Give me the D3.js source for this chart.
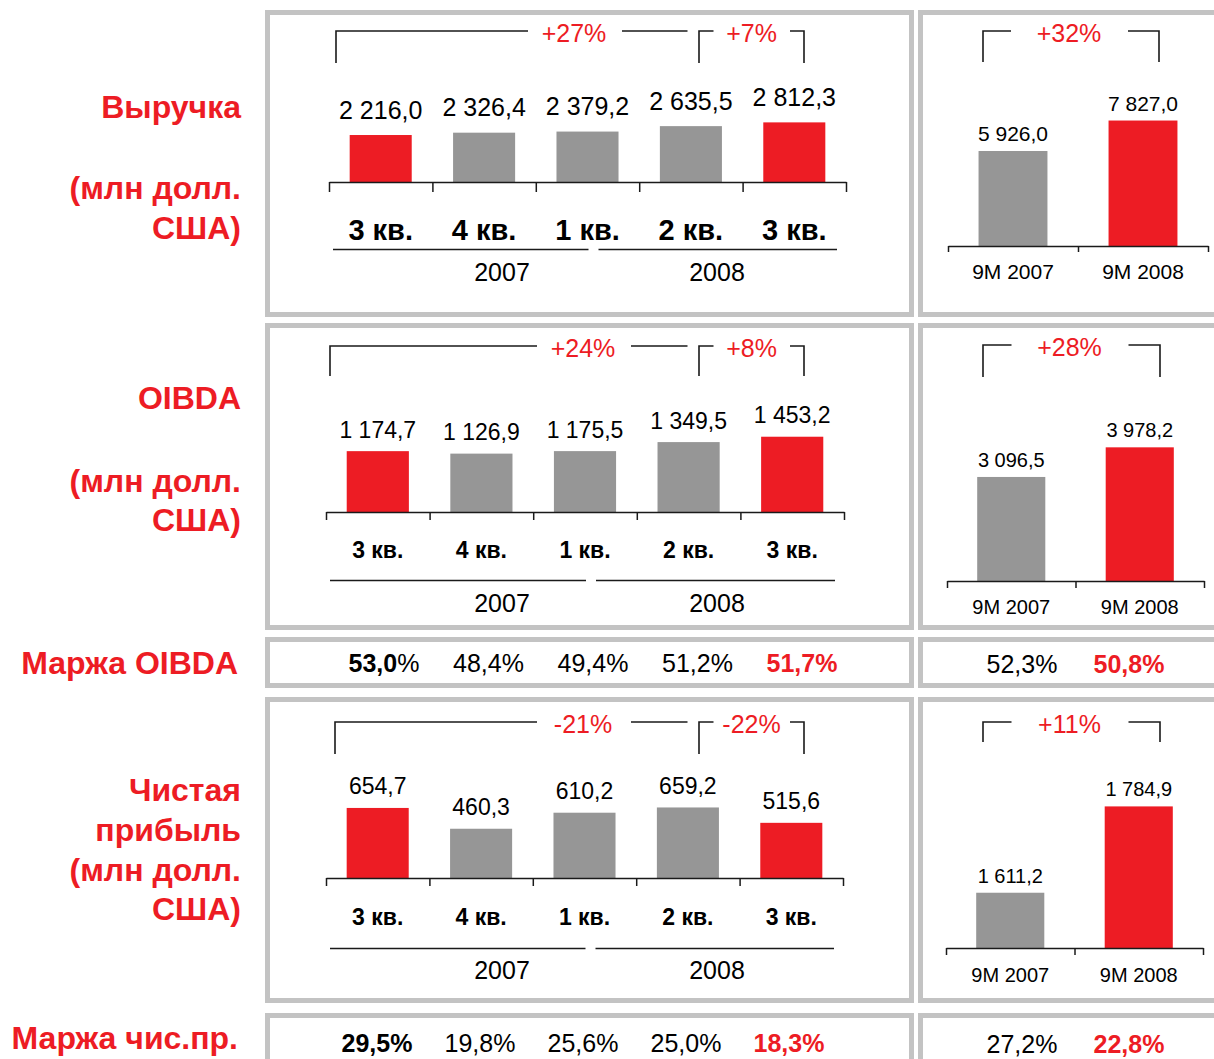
<!DOCTYPE html>
<html>
<head>
<meta charset="utf-8">
<script src="https://cdn.jsdelivr.net/npm/d3@7"></script>
<style>
body { margin: 0; background: #fff; }
svg { display: block; font-family: "Liberation Sans", Arial, sans-serif; }
</style>
</head>
<body>
<div id="chart"></div>
<script>
// ---- data ----
var quarters = ["3 кв.", "4 кв.", "1 кв.", "2 кв.", "3 кв."];
var years = ["2007", "2008"];
var periods9m = ["9M 2007", "9M 2008"];

var revenue = [2216.0, 2326.4, 2379.2, 2635.5, 2812.3];
var oibda = [1174.7, 1126.9, 1175.5, 1349.5, 1453.2];
var netIncome = [654.7, 460.3, 610.2, 659.2, 515.6];

var revenue9m = [5926.0, 7827.0];
var oibda9m = [3096.5, 3978.2];
var netIncome9m = [1611.2, 1784.9];

var oibdaMargin = [53.0, 48.4, 49.4, 51.2, 51.7];
var oibdaMargin9m = [52.3, 50.8];
var netMargin = [29.5, 19.8, 25.6, 25.0, 18.3];
var netMargin9m = [27.2, 22.8];

// growth: [3Q08 vs 3Q07, 3Q08 vs 2Q08], and 9M08 vs 9M07
var revenueGrowth = ["+27%", "+7%"];
var oibdaGrowth = ["+24%", "+8%"];
var netGrowth = ["-21%", "-22%"];
var revenueGrowth9m = "+32%";
var oibdaGrowth9m = "+28%";
var netGrowth9m = "+11%";

var redQuarter = [true, false, false, false, true];
var red9m = [false, true];

var rowTitles = [
    ["Выручка", "(млн долл.", "США)"],
    ["OIBDA", "(млн долл.", "США)"],
    ["Чистая", "прибыль", "(млн долл.", "США)"]
];
var marginTitles = ["Маржа OIBDA", "Маржа чис.пр."];

// ---- setup ----
var w = 1214;
var h = 1059;
var RED = "#ed1c24", GREY = "#969696", FRAME = "#c3c3c3", INK = "#1a1a1a";

var loc = d3.formatLocale({decimal: ",", thousands: "\u00a0", grouping: [3], currency: ["", ""]});
var fmtVal = loc.format(",.1f");
var fmtPct = loc.format(".1f");

var svg = d3.select("#chart")
            .append("svg")
            .attr("width", w)
            .attr("height", h);

svg.append("rect").attr("width", w).attr("height", h).attr("fill", "#fff");

function frame(x0, y0, x1, y1) {
    svg.append("rect")
        .attr("x", x0 + 2.5).attr("y", y0 + 2.5)
        .attr("width", x1 - x0 - 5).attr("height", y1 - y0 - 5)
        .attr("fill", "none").attr("stroke", FRAME).attr("stroke-width", 5);
}

function bracket(xl, xr, yTop, yBotL, yBotR, labelX, gapL, gapR, label, size) {
    var p = "M" + xl + "," + yBotL + "V" + yTop + "H" + (labelX - gapL) +
            "M" + (labelX + gapR) + "," + yTop + "H" + xr;
    if (yBotR) p += "V" + yBotR;
    svg.append("path").attr("d", p).attr("fill", "none")
        .attr("stroke", INK).attr("stroke-width", 1.6);
    svg.append("text").attr("x", labelX).attr("y", yTop + 2).attr("dy", "0.35em")
        .attr("text-anchor", "middle").attr("font-size", size).attr("fill", RED)
        .text(label);
}

// ---- quarterly panels ----
var qRows = [
    {values: revenue, growth: revenueGrowth, x0: 329, x1: 846, base: 182, yDomain: [0, 5000], yPx: 106,
     tick: 10, valSize: 25, valGap: 25, qSize: 29, qY: 230, lineY: 249.5, yearY: 272,
     brTop: 31, brBot: 63, brLeft: 336, bigX: 574},
    {values: oibda, growth: oibdaGrowth, x0: 326, x1: 844, base: 512, yDomain: [0, 2000], yPx: 103.6,
     tick: 8, valSize: 23, valGap: 21.5, qSize: 23, qY: 550, lineY: 580.5, yearY: 603,
     brTop: 346, brBot: 376, brLeft: 330, bigX: 583},
    {values: netIncome, growth: netGrowth, x0: 326, x1: 843, base: 878, yDomain: [0, 1000], yPx: 107,
     tick: 8, valSize: 23, valGap: 21.5, qSize: 23, qY: 917, lineY: 948.5, yearY: 970,
     brTop: 722, brBot: 754, brLeft: 335, bigX: 583}
];

var frames = [[10, 317], [323, 630], [697, 1003]];
frames.forEach(function(f) {
    frame(265, f[0], 914, f[1]);
    frame(918, f[0], 1250, f[1]);
});
frame(265, 637, 914, 688);
frame(918, 637, 1250, 688);
frame(265, 1013, 914, 1090);
frame(918, 1013, 1250, 1090);

qRows.forEach(function(r) {
    var n = r.values.length;
    var x = d3.scaleBand().domain(d3.range(n)).range([r.x0, r.x1])
              .paddingInner(0.4).paddingOuter(0.2);
    var edge = d3.scaleLinear().domain([0, n]).range([r.x0, r.x1]);
    var y = d3.scaleLinear().domain(r.yDomain).range([r.base, r.base - r.yPx]);
    var bw = x.bandwidth();

    svg.selectAll(null).data(r.values).enter().append("rect")
        .attr("x", function(d, i) { return x(i); })
        .attr("y", function(d) { return y(d); })
        .attr("width", bw)
        .attr("height", function(d) { return r.base - y(d); })
        .attr("fill", function(d, i) { return redQuarter[i] ? RED : GREY; });

    svg.append("g").attr("transform", "translate(0," + r.base + ")")
        .call(d3.axisBottom(edge).tickValues(d3.range(n + 1)).tickSize(r.tick)
              .tickSizeOuter(0).tickFormat(""))
        .call(function(g) {
            g.selectAll("line,path").attr("stroke", INK).attr("stroke-width", 1.5);
        });

    svg.selectAll(null).data(r.values).enter().append("text")
        .attr("x", function(d, i) { return x(i) + bw / 2; })
        .attr("y", function(d) { return y(d) - r.valGap; })
        .attr("dy", "0.35em").attr("text-anchor", "middle")
        .attr("font-size", r.valSize).attr("fill", "#000")
        .text(function(d) { return fmtVal(d); });

    svg.selectAll(null).data(quarters).enter().append("text")
        .attr("x", function(d, i) { return x(i) + bw / 2; })
        .attr("y", r.qY).attr("dy", "0.35em").attr("text-anchor", "middle")
        .attr("font-size", r.qSize).attr("font-weight", "bold").attr("fill", "#000")
        .text(function(d) { return d; });

    // year underlines
    var mid = x(2) + bw / 2;
    var spans = [[edge(0) + 4, mid + 1], [mid + 11, edge(n) - 9]];
    var yearX = [502, 717];
    spans.forEach(function(s, k) {
        svg.append("line").attr("x1", s[0]).attr("x2", s[1])
            .attr("y1", r.lineY).attr("y2", r.lineY)
            .attr("stroke", INK).attr("stroke-width", 1.5);
        svg.append("text").attr("x", yearX[k]).attr("y", r.yearY).attr("dy", "0.35em")
            .attr("text-anchor", "middle").attr("font-size", 25).attr("fill", "#000")
            .text(years[k]);
    });

    // growth brackets
    bracket(r.brLeft, 687.5, r.brTop, r.brBot, null, r.bigX, 46, 48, r.growth[0], 25);
    bracket(699, 804, r.brTop, r.brBot, r.brBot, 751.5, 38, 38.5, r.growth[1], 25);
});

// ---- 9M panels ----
var mRows = [
    {values: revenue9m, growth: revenueGrowth9m, x0: 948, x1: 1208, base: 246, yDomain: [0, 10000], yPx: 160.3,
     tick: 6, valSize: 21, catSize: 21, catY: 272, brTop: 31, brBot: 62, brL: 983, brR: 1159},
    {values: oibda9m, growth: oibdaGrowth9m, x0: 947, x1: 1204, base: 581, yDomain: [0, 5000], yPx: 168,
     tick: 7, valSize: 20, catSize: 20, catY: 607, brTop: 345, brBot: 377, brL: 983, brR: 1160},
    {values: netIncome9m, growth: netGrowth9m, x0: 946, x1: 1203, base: 948, yDomain: [1500, 2000], yPx: 248.5,
     tick: 7, valSize: 20, catSize: 20, catY: 975, brTop: 722, brBot: 742, brL: 983, brR: 1160}
];

mRows.forEach(function(r) {
    var n = r.values.length;
    var x = d3.scaleBand().domain(d3.range(n)).range([r.x0, r.x1])
              .paddingInner(0.47).paddingOuter(0.235);
    var edge = d3.scaleLinear().domain([0, n]).range([r.x0, r.x1]);
    var y = d3.scaleLinear().domain(r.yDomain).range([r.base, r.base - r.yPx]);
    var bw = x.bandwidth();

    svg.selectAll(null).data(r.values).enter().append("rect")
        .attr("x", function(d, i) { return x(i); })
        .attr("y", function(d) { return y(d); })
        .attr("width", bw)
        .attr("height", function(d) { return r.base - y(d); })
        .attr("fill", function(d, i) { return red9m[i] ? RED : GREY; });

    svg.append("g").attr("transform", "translate(0," + r.base + ")")
        .call(d3.axisBottom(edge).tickValues(d3.range(n + 1)).tickSize(r.tick)
              .tickSizeOuter(0).tickFormat(""))
        .call(function(g) {
            g.selectAll("line,path").attr("stroke", INK).attr("stroke-width", 1.5);
        });

    svg.selectAll(null).data(r.values).enter().append("text")
        .attr("x", function(d, i) { return x(i) + bw / 2; })
        .attr("y", function(d) { return y(d) - 17; })
        .attr("dy", "0.35em").attr("text-anchor", "middle")
        .attr("font-size", r.valSize).attr("fill", "#000")
        .text(function(d) { return fmtVal(d); });

    svg.selectAll(null).data(periods9m).enter().append("text")
        .attr("x", function(d, i) { return x(i) + bw / 2; })
        .attr("y", r.catY).attr("dy", "0.35em").attr("text-anchor", "middle")
        .attr("font-size", r.catSize).attr("fill", "#000")
        .text(function(d) { return d; });

    bracket(r.brL, r.brR, r.brTop, r.brBot, r.brBot, (r.brL + r.brR) / 2 - 2, 58, 59, r.growth, 25);
});

// ---- margin rows ----
var marginRows = [
    {values: oibdaMargin, values9m: oibdaMargin9m, y: 663, range: [384, 802], boldPct: false},
    {values: netMargin, values9m: netMargin9m, y: 1043, range: [377, 789], boldPct: true}
];

marginRows.forEach(function(r) {
    var xq = d3.scalePoint().domain(d3.range(r.values.length)).range(r.range);
    var xm = d3.scalePoint().domain(d3.range(r.values9m.length)).range([1022, 1129]);

    var t = svg.selectAll(null).data(r.values).enter().append("text")
        .attr("x", function(d, i) { return xq(i); })
        .attr("y", r.y).attr("dy", "0.35em").attr("text-anchor", "middle")
        .attr("font-size", 25)
        .attr("fill", function(d, i) { return redQuarter[i] && i > 0 ? RED : "#000"; })
        .attr("font-weight", function(d, i) { return redQuarter[i] && i > 0 ? "bold" : "normal"; });
    t.append("tspan")
        .attr("font-weight", function(d, i) { return i === 0 ? "bold" : null; })
        .text(function(d) { return fmtPct(d); });
    t.append("tspan")
        .attr("font-weight", function(d, i) { return i === 0 && r.boldPct ? "bold" : null; })
        .text("%");

    svg.selectAll(null).data(r.values9m).enter().append("text")
        .attr("x", function(d, i) { return xm(i); })
        .attr("y", r.y + 1).attr("dy", "0.35em").attr("text-anchor", "middle")
        .attr("font-size", 25)
        .attr("fill", function(d, i) { return red9m[i] ? RED : "#000"; })
        .attr("font-weight", function(d, i) { return red9m[i] ? "bold" : "normal"; })
        .text(function(d) { return fmtPct(d) + "%"; });
});

// ---- row titles ----
var titleY = [[107, 188, 228], [398, 481, 520], [790, 830, 870, 909]];
rowTitles.forEach(function(lines, k) {
    svg.selectAll(null).data(lines).enter().append("text")
        .attr("x", 241)
        .attr("y", function(d, i) { return titleY[k][i]; })
        .attr("dy", "0.35em").attr("text-anchor", "end")
        .attr("font-size", 32).attr("font-weight", "bold").attr("fill", RED)
        .text(function(d) { return d; });
});

svg.selectAll(null).data(marginTitles).enter().append("text")
    .attr("x", 238)
    .attr("y", function(d, i) { return [663, 1038][i]; })
    .attr("dy", "0.35em").attr("text-anchor", "end")
    .attr("font-size", 32).attr("font-weight", "bold").attr("fill", RED)
    .text(function(d) { return d; });
</script>
</body>
</html>
